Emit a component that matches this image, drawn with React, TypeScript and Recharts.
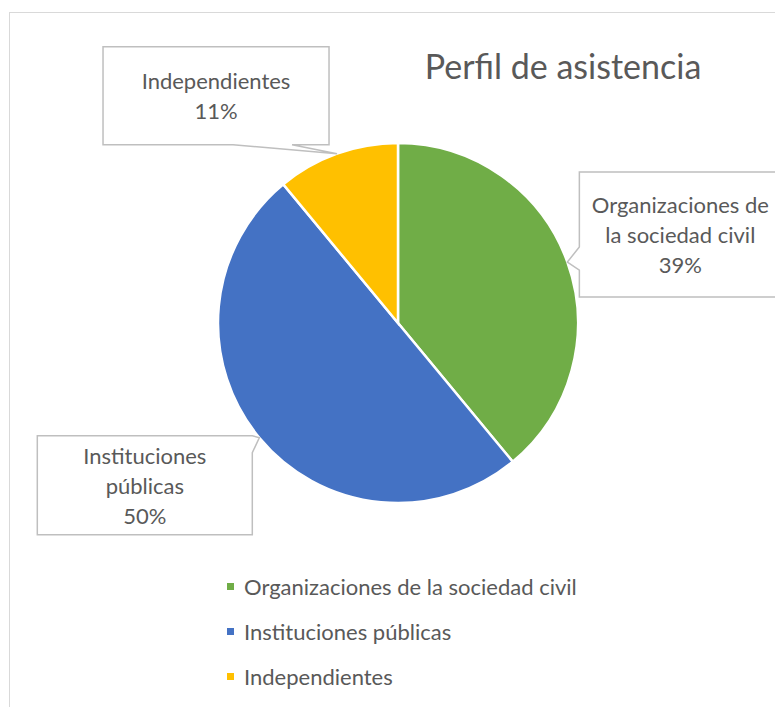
import React from 'react';
import { PieChart, Pie, Cell, Legend } from 'recharts';

const categories = ['Organizaciones de la sociedad civil', 'Instituciones públicas', 'Independientes'];
const shares = [39, 50, 11];
const colors = ['#70AD47', '#4472C4', '#FFC000'];
const title = 'Perfil de asistencia';

const data = categories.map((name, i) => ({ name, value: shares[i] }));

const FONT = 'Lato, "Open Sans", sans-serif';
const TEXT = '#595959';
const RADIAN = Math.PI / 180;

// callout box placement, relative to the point where the slice's mid angle meets the rim
const callouts = [
  { dx: 12, dy: -90, w: 202, h: 125, side: 'left', a: -15, b: 8 },
  { dx: -222, dy: -2, w: 215, h: 99, side: 'right', a: 0, b: 17 },
  { dx: -234, dy: -107, w: 226, h: 98, side: 'bottom', a: 130, b: 189 },
];

function wrap(text: string, max = 17) {
  const lines: string[] = [];
  let cur = '';
  text.split(' ').forEach((w) => {
    if (cur && (cur + ' ' + w).length > max) { lines.push(cur); cur = w; }
    else cur = cur ? cur + ' ' + w : w;
  });
  if (cur) lines.push(cur);
  return lines;
}

function renderCallout(props: any) {
  const { cx, cy, midAngle, outerRadius, name, percent, index } = props;
  const c = callouts[index];
  const tx = cx + outerRadius * Math.cos(-midAngle * RADIAN);
  const ty = cy + outerRadius * Math.sin(-midAngle * RADIAN);
  const x = tx + c.dx, y = ty + c.dy, r = x + c.w, btm = y + c.h;
  let d = '';
  if (c.side === 'left') {
    d = `M${x},${y} L${r},${y} L${r},${btm} L${x},${btm} L${x},${ty + c.b} L${tx},${ty} L${x},${ty + c.a} Z`;
  } else if (c.side === 'right') {
    d = `M${x},${y} L${r},${y + c.a} L${tx},${ty} L${r},${y + c.b} L${r},${btm} L${x},${btm} Z`;
  } else {
    d = `M${x},${y} L${r},${y} L${r},${btm} L${x + c.b},${btm} L${tx},${ty} L${x + c.a},${btm} L${x},${btm} Z`;
  }
  const lines = [...wrap(name), `${Math.round(percent * 100)}%`];
  const lh = 30;
  const midY = y + c.h / 2;
  const startY = midY - ((lines.length - 1) * lh) / 2;
  return (
    <g key={`callout-${index}`}>
      <path d={d} fill="#fff" stroke="#BFBFBF" strokeWidth={1.5} />
      {lines.map((ln, i) => (
        <text key={i} x={x + c.w / 2} y={startY + i * lh} textAnchor="middle" dominantBaseline="central"
          fill={TEXT} fontSize={22} fontFamily={FONT}>{ln}</text>
      ))}
    </g>
  );
}

function renderLegend(props: any) {
  const items = [...(props.payload || [])].sort(
    (a: any, b: any) => categories.indexOf(a.value) - categories.indexOf(b.value)
  );
  return (
    <div style={{ fontFamily: FONT }}>
      {items.map((p: any, i: number) => (
        <div key={i} style={{ display: 'flex', alignItems: 'center', height: 45 }}>
          <span style={{ width: 7, height: 7, background: p.color, marginRight: 10, display: 'inline-block' }} />
          <span style={{ fontSize: 22, color: TEXT }}>{p.value}</span>
        </div>
      ))}
    </div>
  );
}

export default function App() {
  return (
    <div style={{ position: 'absolute', left: 0, top: 0, width: 775, height: 707, overflow: 'hidden', background: '#fff' }}>
      <div style={{ position: 'absolute', left: 9, top: 12, width: 820, height: 760, border: '1.5px solid #D9D9D9' }} />
      <div style={{ position: 'absolute', left: 413, top: 44, width: 300, textAlign: 'center', fontFamily: FONT, fontSize: 34, color: TEXT, lineHeight: '44px' }}>
        {title}
      </div>
      <div style={{ position: 'absolute', left: 0, top: 0 }}>
        <PieChart width={775} height={707}>
          <Pie data={data} dataKey="value" nameKey="name" cx={393} cy={318} outerRadius={180}
            startAngle={90} endAngle={-270} stroke="#fff" strokeWidth={2.5}
            label={renderCallout} labelLine={false} isAnimationActive={false}>
            {data.map((_, i) => <Cell key={i} fill={colors[i]} />)}
          </Pie>
          <Legend content={renderLegend} layout="vertical" wrapperStyle={{ left: 227, top: 564, width: 500 }} />
        </PieChart>
      </div>
    </div>
  );
}
